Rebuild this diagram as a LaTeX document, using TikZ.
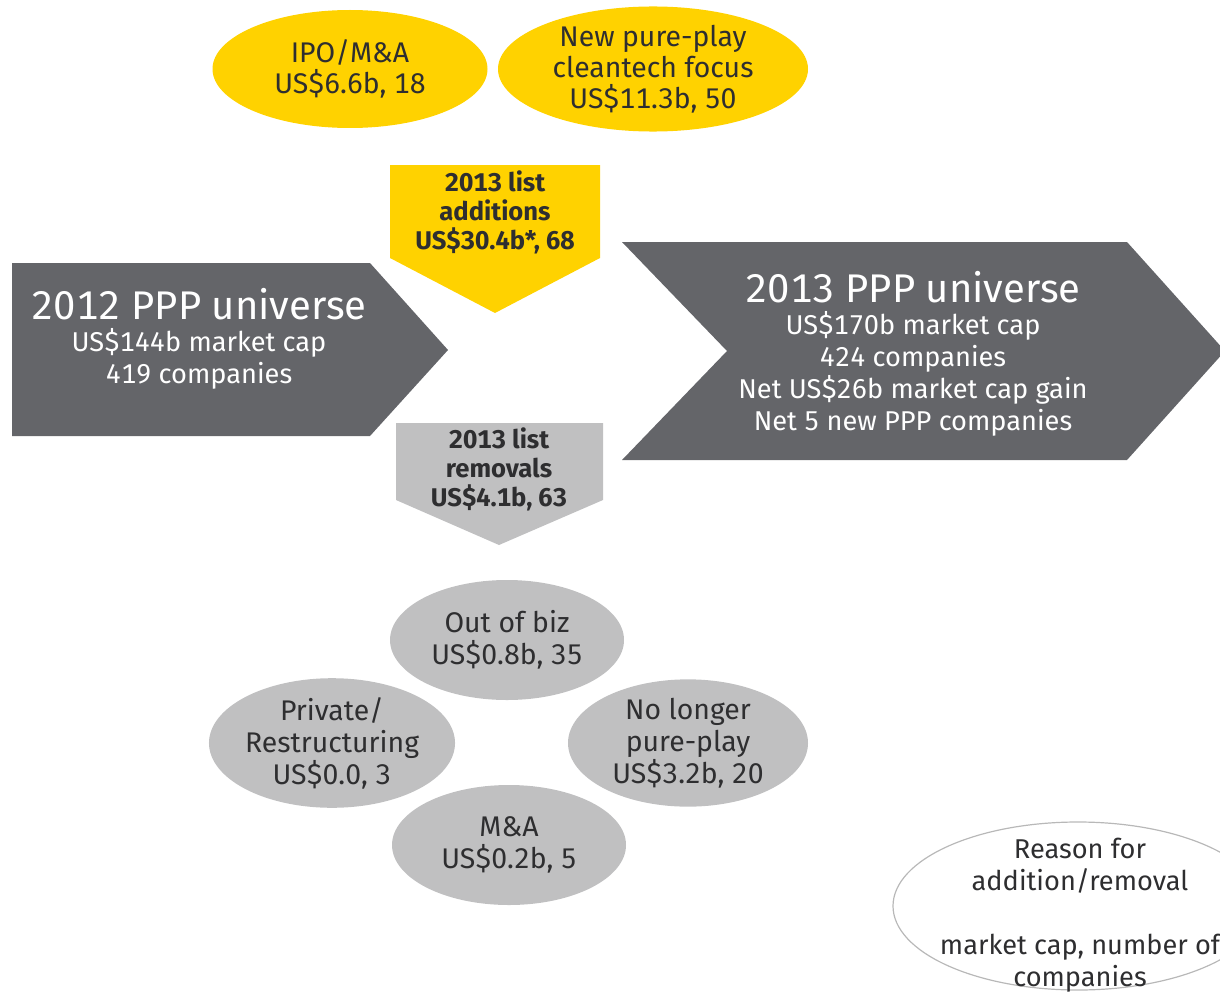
\documentclass[tikz,border=0pt]{standalone}
\usepackage{fontspec}
\setmainfont{Fira Sans}[Numbers=Monospaced]
\usetikzlibrary{shapes.geometric}
\definecolor{eyyellow}{HTML}{FFD200}
\definecolor{eydark}{HTML}{646569}
\definecolor{eylight}{HTML}{C0C0C1}
\definecolor{eytext}{HTML}{2E2E30}
\definecolor{eyline}{HTML}{B8B8B8}
\tikzset{
  body/.style={font=\fontsize{13.6}{16}\selectfont, align=center, text=eytext, inner sep=0pt},
  title/.style={font=\fontsize{20}{22}\selectfont, align=center, text=white, inner sep=0pt},
  label/.style={font=\bfseries\fontsize{12.8}{14.5}\selectfont, align=center, text=eytext, inner sep=0pt},
  bubble/.style={ellipse, body, minimum width=#1},
  yellowbubble/.style={bubble=#1, fill=eyyellow, font=\fontsize{14.2}{15.6}\selectfont},
  graybubble/.style={bubble=#1, fill=eylight, font=\fontsize{14.2}{16}\selectfont}
}

\begin{document}
\begin{tikzpicture}[x=0.5pt, y=-0.5pt]
  \useasboundingbox (0,0) rectangle (1220,995);

  % universe arrows
  \fill[eydark] (12,263) -- (370,263) -- (448,350) -- (370,436) -- (12,436) -- cycle;
  \fill[eydark] (622,242) -- (1127,242) -- (1225,351) -- (1127,460) -- (622,460) -- (727,351) -- cycle;

  % additions and removals
  \fill[eyyellow] (390,165) -- (600,165) -- (600,258) -- (495,313) -- (390,258) -- cycle;
  \fill[eylight] (396,423) -- (603,423) -- (603,500) -- (499,545) -- (396,500) -- cycle;

  \node[title] (u12t) at (199,304) {2012 PPP universe};
  \node[body, text=white] (u12) at (199,359) {US\$144b market cap\\419 companies};
  \node[title] (u13t) at (913,287) {2013 PPP universe};
  \node[body, text=white] (u13) at (913,374) {US\$170b market cap\\424 companies\\Net US\$26b market cap gain\\Net 5 new PPP companies};

  \node[label] (add) at (495,212) {2013 list\\additions\\US\$30.4b*, 68};
  \node[label] (rem) at (499,469) {2013 list\\removals\\US\$4.1b, 63};

  % reasons for additions
  \node[yellowbubble=137.5pt, minimum height=59pt] (ipo) at (350,69) {IPO/M\&A\\US\$6.6b, 18};
  \node[yellowbubble=155pt, minimum height=61pt] (pure) at (653,69) {New pure-play\\cleantech focus\\US\$11.3b, 50};

  % reasons for removals
  \node[graybubble=117pt, minimum height=60pt] (biz) at (507,640) {Out of biz\\US\$0.8b, 35};
  \node[graybubble=120pt, minimum height=60pt] (priv) at (332,743) {Private/\\Restructuring\\US\$0.0, 3};
  \node[graybubble=120pt, minimum height=60pt] (nolong) at (688,743) {No longer\\pure-play\\US\$3.2b, 20};
  \node[graybubble=117pt, minimum height=60pt] (ma) at (509,845) {M\&A\\US\$0.2b, 5};

  % key
  \node[bubble=185pt, minimum height=84pt, draw=eyline, line width=0.6pt] (key) at (1078,906) {};
  \node[body] (keytxt) at (1080,915) {Reason for\\addition/removal\\[16pt]market cap, number of\\companies};
\end{tikzpicture}
\end{document}
